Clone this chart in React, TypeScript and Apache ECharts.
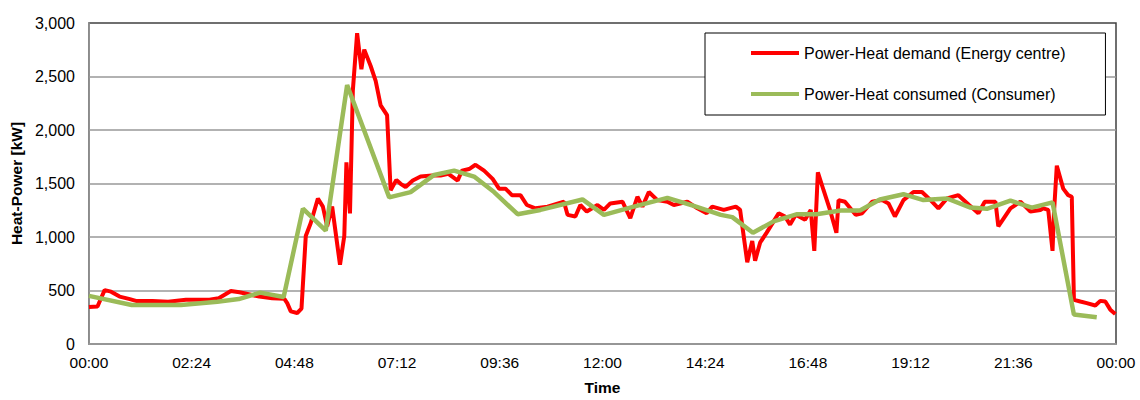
import React, { useEffect, useRef } from "react";
import * as echarts from "echarts";

// Time in hours of the day, values in kW
const demandHours = [
  0.0, 0.2, 0.28, 0.36, 0.51, 0.71, 0.94, 1.1, 1.49, 1.85, 2.26, 2.81, 3.04, 3.32, 3.51, 3.74, 3.98, 4.29, 4.56, 4.64,
  4.72, 4.87, 4.97, 5.07, 5.18, 5.35, 5.46, 5.57, 5.69, 5.87, 5.96, 6.02, 6.1, 6.16, 6.27, 6.37, 6.44, 6.58, 6.7, 6.82,
  6.96, 7.05, 7.19, 7.28, 7.4, 7.56, 7.75, 8.02, 8.22, 8.4, 8.61, 8.72, 8.88, 9.04, 9.23, 9.43, 9.58, 9.74, 9.89, 10.09,
  10.24, 10.44, 10.71, 11.1, 11.18, 11.37, 11.49, 11.64, 11.88, 12.03, 12.19, 12.46, 12.65, 12.81, 12.93, 13.08, 13.28,
  13.51, 13.67, 13.98, 14.21, 14.44, 14.56, 14.83, 15.11, 15.22, 15.38, 15.5, 15.57, 15.69, 15.84, 16.0, 16.12, 16.27,
  16.39, 16.51, 16.74, 16.86, 16.95, 17.03, 17.17, 17.32, 17.46, 17.52, 17.67, 17.91, 18.06, 18.3, 18.53, 18.69, 18.84,
  19.04, 19.27, 19.46, 19.66, 19.85, 20.05, 20.32, 20.56, 20.79, 20.94, 21.18, 21.25, 21.53, 21.76, 22.0, 22.23, 22.3,
  22.42, 22.52, 22.55, 22.62, 22.77, 22.89, 22.97, 23.02, 23.16, 23.32, 23.51, 23.63, 23.75, 23.86, 23.98,
];
const demandValues = [
  346, 351, 428, 504, 489, 443, 422, 403, 403, 395, 413, 413, 428, 495, 483, 465, 443, 428, 422, 382,
  305, 290, 330, 1009, 1131, 1360, 1284, 1100, 1284, 740, 1009, 1697, 1220, 2369, 2904, 2568, 2751, 2598, 2460, 2231,
  2139, 1437, 1534, 1497, 1467, 1528, 1565, 1574, 1574, 1590, 1528, 1620, 1635, 1675, 1620, 1543, 1452, 1452, 1391, 1391,
  1299, 1268, 1284, 1330, 1207, 1192, 1299, 1238, 1299, 1253, 1314, 1330, 1177, 1376, 1284, 1421, 1345,
  1330, 1299, 1330, 1268, 1223, 1284, 1253, 1284, 1253, 764, 963, 779, 947, 1039, 1146, 1222, 1192,
  1116, 1207, 1161, 1253, 871, 1605, 1437, 1253, 1039, 1345, 1330, 1207, 1222, 1330, 1345, 1314, 1192,
  1345, 1421, 1421, 1345, 1268, 1360, 1391, 1299, 1222, 1330, 1330, 1100, 1268, 1330, 1238, 1253, 1268,
  1253, 871, 1222, 1666, 1452, 1391, 1376, 413, 397, 382, 360, 403, 397, 321, 281,
];

const consumedHours = [
  0.0, 1.0, 2.15, 3.0, 3.5, 4.0, 4.55, 5.0, 5.53, 6.04, 7.01, 7.52, 8.06, 8.53, 9.0, 9.46, 10.01, 10.55, 11.53, 12.03,
  12.73, 13.51, 14.13, 14.76, 15.03, 15.52, 16.0, 16.55, 17.0, 17.56, 18.02, 18.49, 19.04, 19.5, 20.05, 20.6, 20.98,
  21.53, 22.03, 22.52, 23.02, 23.55,
];
const consumedValues = [
  450, 365, 365, 395, 420, 480, 440, 1265, 1060, 2420, 1370, 1420, 1580, 1620, 1565, 1420, 1213, 1253, 1351, 1207,
  1284, 1366, 1290, 1207, 1186, 1040, 1146, 1213, 1213, 1247, 1247, 1351, 1400, 1345, 1360, 1275, 1263,
  1339, 1275, 1323, 275, 250,
];

const seriesNames = ["Power-Heat demand (Energy centre)", "Power-Heat consumed (Consumer)"];
const xTickMinutes = 144;

const FONT = "'Liberation Sans', Arial, sans-serif";

function fmtTime(m: number): string {
  const mm = Math.round(m) % 1440;
  const h = Math.floor(mm / 60);
  const mi = mm % 60;
  return String(h).padStart(2, "0") + ":" + String(mi).padStart(2, "0");
}

export default function App() {
  const ref = useRef<HTMLDivElement>(null);
  useEffect(() => {
    if (!ref.current) return;
    document.body.style.margin = "0";
    document.body.style.overflow = "hidden";
    const chart = echarts.init(ref.current, undefined, { renderer: "svg" });
    const demand = demandHours.map((h, i) => [Math.round(h * 60), demandValues[i]]);
    const consumed = consumedHours.map((h, i) => [Math.round(h * 60), consumedValues[i]]);
    chart.setOption({
      animation: false,
      backgroundColor: "#ffffff",
      textStyle: { fontFamily: FONT },
      grid: {
        left: 88,
        right: 24,
        top: 23,
        bottom: 50,
        show: true,
        borderColor: "#404040",
        borderWidth: 1.5,
        backgroundColor: "transparent",
      },
      legend: {
        orient: "vertical",
        left: 705,
        top: 33,
        padding: [12, 40, 13, 46],
        itemGap: 25,
        itemWidth: 48,
        itemHeight: 4,
        icon: "rect",
        borderColor: "#000",
        borderWidth: 1,
        backgroundColor: "#fff",
        textStyle: { fontSize: 16, color: "#000", fontFamily: FONT, lineHeight: 16 },
        data: seriesNames,
      },
      xAxis: {
        type: "value",
        min: 0,
        max: 1440,
        interval: xTickMinutes,
        name: "Time",
        nameLocation: "middle",
        nameGap: 35,
        nameTextStyle: { fontSize: 15.5, fontWeight: "bold", color: "#000", fontFamily: FONT },
        axisLine: { show: true, lineStyle: { color: "#999", width: 1.5 } },
        axisTick: { show: false },
        splitLine: { show: false },
        axisLabel: {
          margin: 10,
          fontSize: 15.5,
          color: "#000",
          fontFamily: FONT,
          formatter: (v: number) => fmtTime(v),
        },
      },
      yAxis: {
        type: "value",
        min: 0,
        max: 3000,
        interval: 500,
        name: "Heat-Power [kW]",
        nameLocation: "middle",
        nameGap: 58,
        nameRotate: 90,
        nameTextStyle: { fontSize: 15.5, fontWeight: "bold", color: "#000", fontFamily: FONT },
        axisLine: { show: true, lineStyle: { color: "#999", width: 1.5 } },
        axisTick: { show: false },
        splitLine: { show: true, showMaxLine: false, lineStyle: { color: "#999", width: 1.5 } },
        axisLabel: {
          margin: 14,
          fontSize: 16,
          color: "#000",
          fontFamily: FONT,
          formatter: (v: number) => v.toLocaleString("en-US"),
        },
      },
      series: [
        {
          name: seriesNames[0],
          type: "line",
          data: demand,
          showSymbol: false,
          symbol: "none",
          lineStyle: { color: "#ff0000", width: 4 },
          itemStyle: { color: "#ff0000" },
          z: 2,
        },
        {
          name: seriesNames[1],
          type: "line",
          data: consumed,
          showSymbol: false,
          symbol: "none",
          lineStyle: { color: "#9bbb59", width: 4.5 },
          itemStyle: { color: "#9bbb59" },
          z: 3,
        },
      ],
    });
    return () => chart.dispose();
  }, []);
  return <div ref={ref} style={{ width: 1140, height: 400 }} />;
}
